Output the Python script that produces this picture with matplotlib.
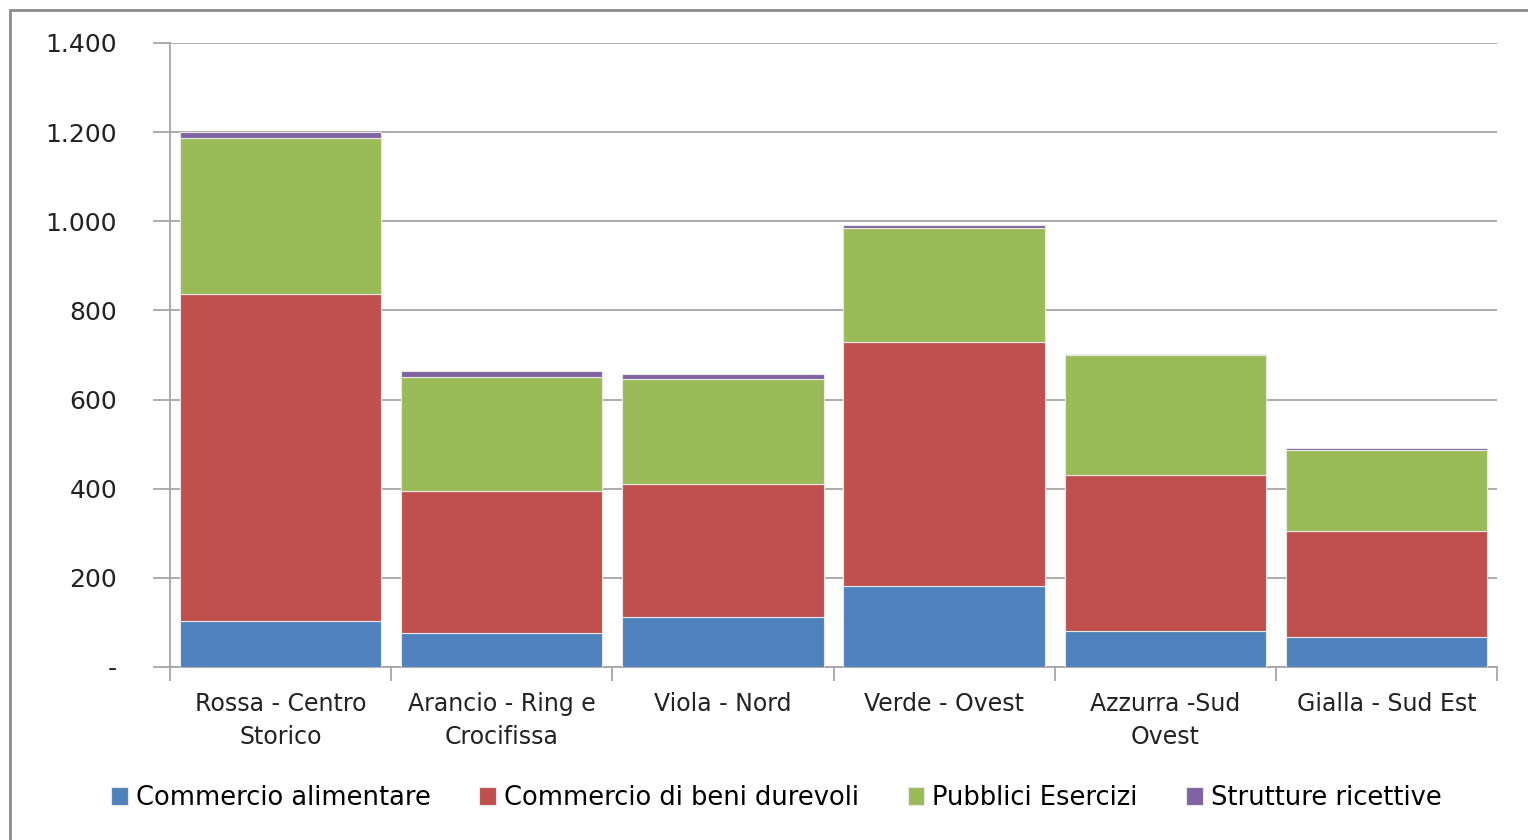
import numpy as np
import matplotlib
matplotlib.use('Agg')
from matplotlib import pyplot as plt
from matplotlib.patches import Rectangle
from matplotlib.ticker import FuncFormatter

### Data
zone = ['Rossa - Centro\nStorico', 'Arancio - Ring e\nCrocifissa', 'Viola - Nord',
        'Verde - Ovest', 'Azzurra -Sud\nOvest', 'Gialla - Sud Est']
alimentare = [103, 77, 113, 182, 81, 68]
durevoli = [733, 318, 298, 547, 349, 238]
pubblici = [350, 256, 235, 256, 269, 180]
ricettive = [14, 13, 11, 6, 4, 6]

series_names = ['Commercio alimentare', 'Commercio di beni durevoli',
                'Pubblici Esercizi', 'Strutture ricettive']
colors = ['#4F81BD', '#C0504D', '#9BBB59', '#8064A2']

plt.rcParams['font.family'] = ['DejaVu Sans']

fig = plt.figure(figsize=(15.28, 8.4), dpi=100)
ax = fig.add_axes([170/1528, 1 - 667/840, (1497-170)/1528, (667-43)/840])

# grey frame round the chart area
fig.patches.append(Rectangle((10/1528, -0.1), 1.2, 1 - 10/840 + 0.1,
                             transform=fig.transFigure, fill=False,
                             edgecolor='#8c8c8c', linewidth=2))

x = np.arange(len(zone))
bottom = np.zeros(len(zone))
for vals, name, col in zip([alimentare, durevoli, pubblici, ricettive], series_names, colors):
    ax.bar(x, vals, bottom=bottom, width=0.91, color=col, label=name,
           edgecolor='#e8e8e8', linewidth=0.8, zorder=3)
    bottom += np.array(vals)

ax.set_xlim(-0.5, len(zone) - 0.5)
ax.set_ylim(0, 1400)
ax.set_yticks(np.arange(0, 1401, 200))
ax.yaxis.set_major_formatter(FuncFormatter(
    lambda v, p: '-' if v == 0 else '{:,.0f}'.format(v).replace(',', '.')))
ax.grid(axis='y', color='#a6a6a6', linewidth=1.3, zorder=0)

for s in ['top', 'right']:
    ax.spines[s].set_visible(False)
for s in ['left', 'bottom']:
    ax.spines[s].set_color('#a6a6a6')
    ax.spines[s].set_linewidth(1.3)

ax.tick_params(axis='y', length=12, width=1.3, color='#a6a6a6',
               labelsize=18, labelcolor='#222222', pad=26)

ax.set_xticks(x)
ax.set_xticklabels(zone, fontsize=17, color='#222222', linespacing=1.5, va='top')
ax.tick_params(axis='x', which='major', length=0, pad=18)
ax.set_xticks(np.arange(-0.5, len(zone)), minor=True)
ax.tick_params(axis='x', which='minor', length=10, width=1.3, color='#a6a6a6')

fig.legend(loc='center', bbox_to_anchor=(0.508, 1 - 798/840), ncol=4, frameon=False,
           fontsize=18.5, handlelength=0.65, handleheight=0.65, handletextpad=0.3,
           columnspacing=1.9)

plt.savefig('out.png', dpi=100)
